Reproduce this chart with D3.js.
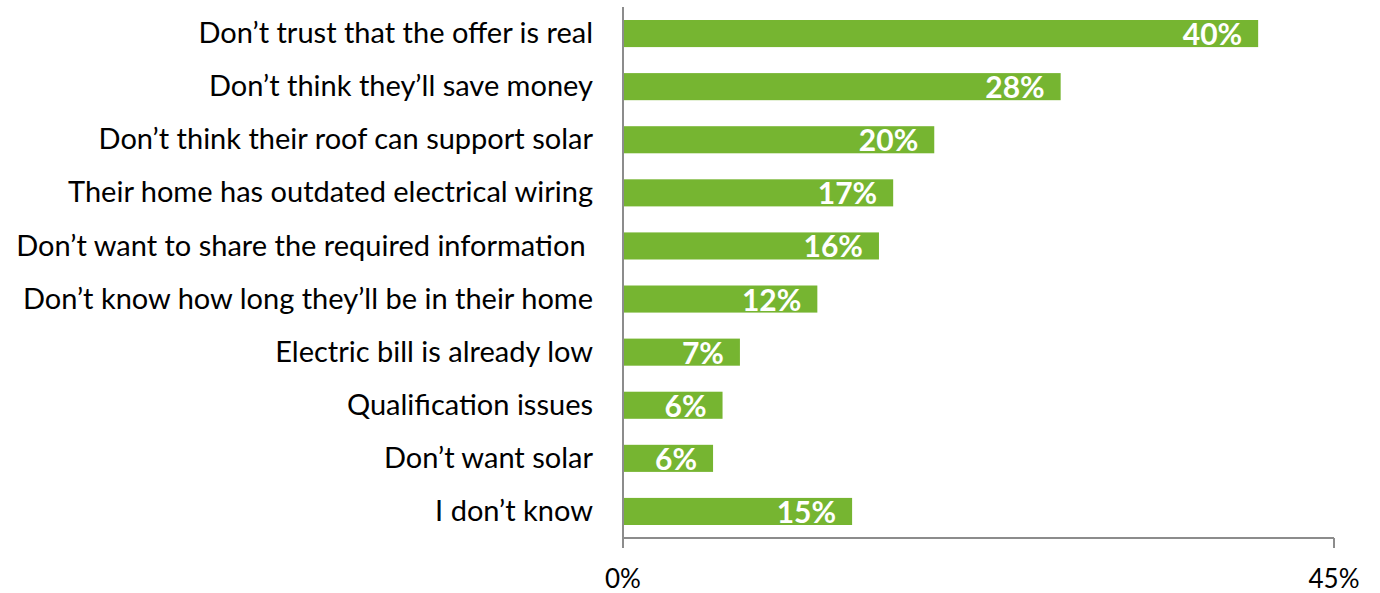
<!DOCTYPE html>
<html>
<head>
<meta charset="utf-8">
<script src="https://cdn.jsdelivr.net/npm/d3@7"></script>
<style>
  html, body { margin: 0; padding: 0; background: #fff; }
  svg { display: block; }
  svg text { white-space: pre; }
</style>
</head>
<body>
<svg id="chart" width="1380" height="593"></svg>
<script>
// Reasons for not going solar (share of respondents)
const categories = [
  "Don\u2019t trust that the offer is real",
  "Don\u2019t think they\u2019ll save money",
  "Don\u2019t think their roof can support solar",
  "Their home has outdated electrical wiring",
  "Don\u2019t want to share the required information ",
  "Don\u2019t know how long they\u2019ll be in their home",
  "Electric bill is already low",
  "Qualification issues",
  "Don\u2019t want solar",
  "I don\u2019t know"
];
const values = [40.2, 27.7, 19.7, 17.1, 16.2, 12.3, 7.4, 6.3, 5.7, 14.5];
const axisTicks = [0, 45];

const svg = d3.select("#chart");
const margin = { left: 623, right: 46, top: 7, bottom: 55 };
const W = 1380, H = 593;

const x = d3.scaleLinear().domain([0, 45]).range([margin.left, W - margin.right]);
const y = d3.scaleBand().domain(categories)
  .range([margin.top, H - margin.bottom]).paddingInner(0.49).paddingOuter(0.245);

const font = "Lato, 'Open Sans', sans-serif";

// bars
svg.append("g").selectAll("rect").data(values).join("rect")
  .attr("x", x(0))
  .attr("y", (d, i) => y(categories[i]))
  .attr("width", d => x(d) - x(0))
  .attr("height", y.bandwidth())
  .attr("fill", "#76b531");

// value labels inside bar ends
svg.append("g").selectAll("text").data(values).join("text")
  .attr("x", d => x(d) - 16)
  .attr("y", (d, i) => y(categories[i]) + y.bandwidth() / 2 + 11.5)
  .attr("text-anchor", "end")
  .attr("fill", "#fff")
  .attr("font-family", font)
  .attr("font-weight", "bold")
  .attr("font-size", 30)
  .text(d => Math.round(d) + "%");

// category axis
const yAxis = svg.append("g")
  .attr("transform", `translate(${x(0)},0)`)
  .call(d3.axisLeft(y).tickSize(0).tickPadding(30));
yAxis.select(".domain").remove();
yAxis.selectAll("text")
  .attr("font-family", font)
  .attr("font-size", 29)
  .attr("fill", "#000")
  .attr("dy", "0.33em");

// axis lines
const grey = "#8c8c8c";
svg.append("line")
  .attr("x1", x(0)).attr("x2", x(0))
  .attr("y1", margin.top).attr("y2", H - margin.bottom + 10)
  .attr("stroke", grey).attr("stroke-width", 2);
svg.append("line")
  .attr("x1", x(0)).attr("x2", x(45))
  .attr("y1", H - margin.bottom).attr("y2", H - margin.bottom)
  .attr("stroke", grey).attr("stroke-width", 2);

// value axis ticks and labels
const xg = svg.append("g");
xg.selectAll("line").data(axisTicks).join("line")
  .attr("x1", d => x(d)).attr("x2", d => x(d))
  .attr("y1", H - margin.bottom).attr("y2", H - margin.bottom + 10)
  .attr("stroke", grey).attr("stroke-width", 2);
xg.selectAll("text").data(axisTicks).join("text")
  .attr("x", d => x(d))
  .attr("y", H - margin.bottom + 50)
  .attr("text-anchor", "middle")
  .attr("font-family", font)
  .attr("font-size", 26)
  .attr("fill", "#000")
  .text(d => d + "%");
</script>
</body>
</html>
